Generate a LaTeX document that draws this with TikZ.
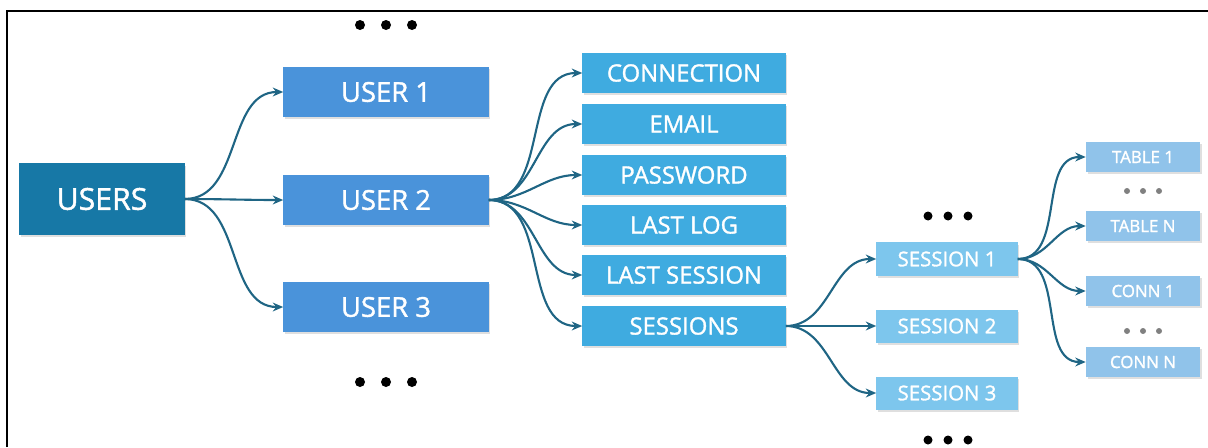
\documentclass[tikz,border=0pt]{standalone}
\usepackage{fontspec}
\setmainfont{Open Sans}[BoldFont={Open Sans}, BoldFeatures={FakeBold=1.4}]
\usetikzlibrary{
  arrows.meta,
  shadows
}
\definecolor{rootcol}{HTML}{1778A6}
\definecolor{usercol}{HTML}{4A93DA}
\definecolor{fieldcol}{HTML}{3FABE0}
\definecolor{sesscol}{HTML}{7DC6ED}
\definecolor{leafcol}{HTML}{90C3EA}
\definecolor{linkcol}{HTML}{1F6584}

\begin{document}
\begin{tikzpicture}[
  x=0.025cm, y=-0.025cm,
  box/.style={inner sep=0pt, text=white,
              drop shadow={shadow xshift=0.4mm, shadow yshift=-0.6mm, opacity=0.25}},
  rootbox/.style={box, fill=rootcol, minimum width=4.125cm, minimum height=1.775cm,
              font=\fontsize{21.5}{24}\selectfont\bfseries},
  userbox/.style={box, fill=usercol, minimum width=5.125cm, minimum height=1.25cm,
              font=\fontsize{19.5}{22}\selectfont\bfseries},
  fieldbox/.style={box, fill=fieldcol, minimum width=5.075cm, minimum height=1cm,
              font=\fontsize{17}{19}\selectfont\bfseries},
  sessbox/.style={box, fill=sesscol, minimum width=3.525cm, minimum height=0.825cm,
              font=\fontsize{14.5}{16}\selectfont\bfseries},
  leafbox/.style={box, fill=leafcol, minimum width=2.85cm, minimum height=0.75cm,
              font=\fontsize{12}{14}\selectfont\bfseries},
  link/.style={-{Stealth[length=2.6mm, width=2.2mm]}, line width=1.5pt, draw=linkcol,
              out=0, in=180}
]
  \useasboundingbox (0,0) rectangle (1208,447);

  % Frame (cropped: top and left only)
  \draw[line width=1pt] (7,447) -- (7,11) -- (1208,11);

  % Root
  \node[rootbox] (users) at (102,199) {USERS};

  % Users column
  \node[userbox] (user1) at (386,92) {USER 1};
  \node[userbox] (user2) at (386,200) {USER 2};
  \node[userbox] (user3) at (386,307) {USER 3};

  % Fields of one user
  \node[fieldbox] (conn)    at (684,73)  {CONNECTION};
  \node[fieldbox] (email)   at (684,124) {EMAIL};
  \node[fieldbox] (pass)    at (684,175) {PASSWORD};
  \node[fieldbox] (lastlog) at (684,225) {LAST LOG};
  \node[fieldbox] (lastses) at (684,275) {LAST SESSION};
  \node[fieldbox] (sess)    at (684,326) {SESSIONS};

  % Sessions column
  \node[sessbox] (sess1) at (947,259) {SESSION 1};
  \node[sessbox] (sess2) at (947,326) {SESSION 2};
  \node[sessbox] (sess3) at (947,393) {SESSION 3};

  % Tables and connections of one session
  \node[leafbox] (table1) at (1143,157) {TABLE 1};
  \node[leafbox] (tablen) at (1143,226) {TABLE N};
  \node[leafbox] (conn1)  at (1143,291) {CONN 1};
  \node[leafbox] (connn)  at (1143,362) {CONN N};

  % Ellipses
  \foreach \dx in {-26,0,26} {
    \fill (386+\dx,25) circle[radius=5];
    \fill (386+\dx,382) circle[radius=5];
  }
  \foreach \dx in {-20,0,20} {
    \fill (948+\dx,216) circle[radius=4.5];
    \fill (948+\dx,440) circle[radius=4.5];
  }
  \foreach \dx in {-16,0,16} {
    \fill[black!50] (1143+\dx,191) circle[radius=3];
    \fill[black!50] (1143+\dx,331) circle[radius=3];
  }

  % Links
  \foreach \t in {user1,user2,user3}
    \draw[link] (users.east) to (\t.west);
  \foreach \t in {conn,email,pass,lastlog,lastses,sess}
    \draw[link] (user2.east) to (\t.west);
  \foreach \t in {sess1,sess2,sess3}
    \draw[link] (sess.east) to (\t.west);
  \foreach \t in {table1,tablen,conn1,connn}
    \draw[link] (sess1.east) to (\t.west);

\end{tikzpicture}
\end{document}
